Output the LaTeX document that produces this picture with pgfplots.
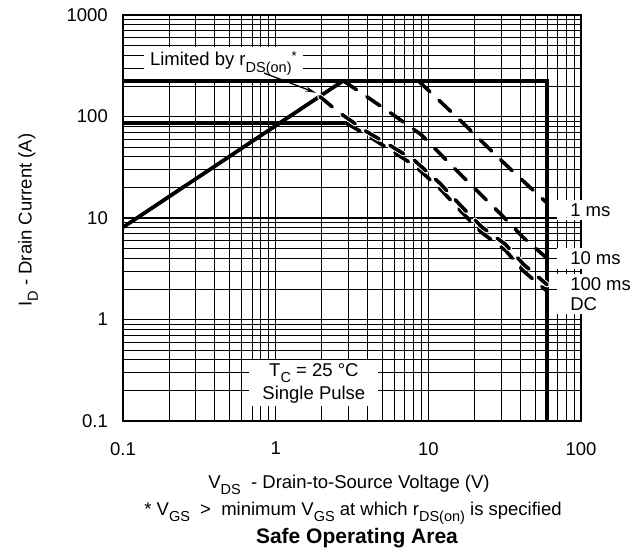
\documentclass[border=0pt]{standalone}
\usepackage{fontspec}
\setmainfont{Liberation Sans}
\usepackage{pgfplots}
\pgfplotsset{compat=1.18}
\usetikzlibrary{arrows.meta}
\newcommand\fs{\fontsize{18.5}{21.5}\selectfont}
\newcommand\sub[1]{\raisebox{-0.33em}{\fontsize{14.5}{14.5}\selectfont #1}}
\newcommand\sups[1]{\raisebox{0.32em}{\fontsize{13}{13}\selectfont #1}}
\begin{document}
\begin{tikzpicture}[font=\fs]
\path[use as bounding box] (-123pt,-131pt) rectangle (517pt,421pt);
\begin{axis}[
  name=ax, at={(0,0)}, anchor=south west,
  scale only axis, width=458pt, height=406pt,
  xmode=log, ymode=log,
  xmin=0.1, xmax=100, ymin=0.1, ymax=1000,
  xtick={0.1,1,10,100}, xticklabels={{0.1},{1},{10},{100}},
  ytick={0.1,1,10,100,1000}, yticklabels={{0.1},{1},{10},{100},{1000}},
  minor xtick={0.2,0.3,0.4,0.5,0.6,0.7,0.8,0.9,2,3,4,5,6,7,8,9,20,30,40,50,60,70,80,90},
  minor ytick={0.2,0.3,0.4,0.5,0.6,0.7,0.8,0.9,2,3,4,5,6,7,8,9,20,30,40,50,60,70,80,90,200,300,400,500,600,700,800,900},
  grid=both,
  major grid style={black, line width=1.2pt},
  minor grid style={black, line width=0.85pt},
  tick style={draw=none},
  axis line style={line width=1.3pt},
  xticklabel style={font=\fs, anchor=north, inner sep=0pt, yshift=-21pt},
  yticklabel style={font=\fs, anchor=east, inner sep=0pt, xshift=-15pt},
  clip=false,
  solidl/.style={black, line width=3.8pt, line join=miter},
  dashl/.style={black, line width=3.6pt, line cap=round, dash pattern=on 16pt off 12.5pt},
]
% current limits and voltage limit
\addplot[solidl] coordinates {(0.1,225) (60,225) (60,0.1)};
\addplot[solidl] coordinates {(0.1,86) (2.9,86)};
% rDS(on) limit
\addplot[solidl] coordinates {(0.1,8.1) (2.77,225)};
% 1 ms
\addplot[dashl] coordinates {(8.6,225) (16.9,86) (30,37) (42,23) (60,14)};
% 10 ms
\addplot[dashl] coordinates {(2.77,225) (4,155) (6,102) (9,66) (15.6,28.6) (30,10.8) (42,6.4) (60,4.0)};
% DC
\addplot[dashl] coordinates {(2.9,86) (3.94,66) (5.6,47) (8.1,33) (11.9,19.5) (16.5,11.5) (22.3,7.2) (32,4.8) (42,3.0) (60,1.9)};
% 100 ms
\addplot[dashl, preaction={draw=white, line width=5.4pt}] coordinates {(1.95,157) (2.57,111) (3.94,71) (5.6,52) (8.1,37) (11.9,22) (16.5,13) (22.3,8.2) (32,5.5) (42,3.5) (60,2.2)};
% annotations
\node[fill=white, anchor=base west, inner xsep=6pt, inner ysep=4pt] at (axis cs:0.137,315) {Limited by r\sub{DS(on)}\sups{*}};
\draw[black, line width=1.3pt, -{Stealth[length=11pt,width=5pt]}] (axis cs:0.839,268) -- (axis cs:1.84,171);
\node[fill=white, align=center, font=\fontsize{18.5}{23}\selectfont, inner xsep=13pt, inner ysep=3pt] at (axis cs:1.78,0.237) {T\sub{C} = 25 °C\\Single Pulse};
\node[fill=white, anchor=base west, inner xsep=13pt, inner ysep=4pt] at (axis cs:69.7,10.4) {1 ms};
\node[fill=white, anchor=base west, inner xsep=13pt, inner ysep=4pt] at (axis cs:69.7,3.48) {10 ms};
\node[fill=white, anchor=base west, inner xsep=13pt, inner ysep=4pt] at (axis cs:69.7,1.91) {100 ms};
\node[fill=white, anchor=base west, inner xsep=13pt, inner ysep=4pt] at (axis cs:69.7,1.24) {DC};
\end{axis}
\node[rotate=90] at (-95pt,201pt) {I\sub{D} - Drain Current (A)};
\node[anchor=base] at (226pt,-67.5pt) {V\sub{DS}\ \ - Drain-to-Source Voltage (V)};
\node[anchor=base] at (230pt,-94pt) {* V\sub{GS}\ \ >\ \ minimum V\sub{GS} at which r\sub{DS(on)} is specified};
\node[anchor=base, font=\fontsize{21}{25}\selectfont\bfseries] at (234pt,-122pt) {Safe Operating Area};
\end{tikzpicture}
\end{document}
